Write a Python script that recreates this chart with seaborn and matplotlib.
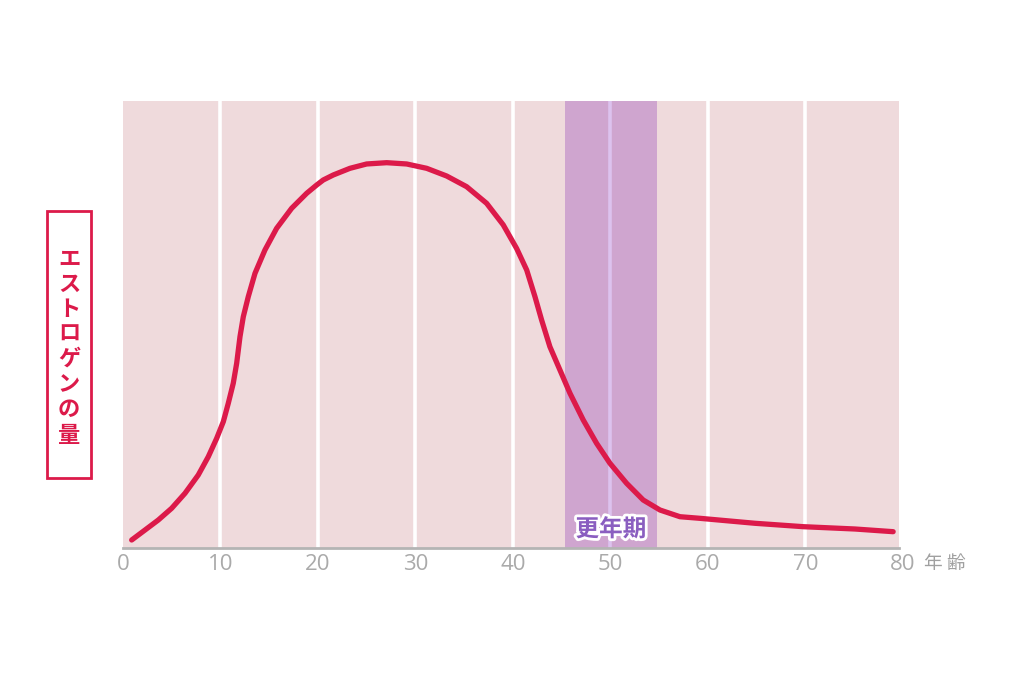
import numpy as np
import pandas as pd
import matplotlib
matplotlib.use("Agg")
import matplotlib.pyplot as plt
import matplotlib.patheffects as pe
import matplotlib.transforms as mtrans
from matplotlib.patches import Rectangle
import seaborn as sns

# 年齢 と エストロゲンの量（相対値, 0-100）
age = [0.89, 2.26, 3.62, 4.99, 6.36, 7.72, 8.75, 9.61, 10.29, 10.80, 11.31, 11.66, 11.83,
       12.00, 12.34, 12.85, 13.54, 14.56, 15.76, 17.30, 18.84, 19.87, 20.54, 21.57, 23.28,
       24.99, 27.05, 29.10, 31.15, 33.20, 35.25, 37.30, 39.00, 40.38, 41.41, 42.26, 42.94,
       43.79, 44.82, 45.85, 47.21, 48.58, 49.95, 51.66, 53.36, 55.08, 57.13, 59.18, 64.82,
       69.77, 75.08, 79.00]
estrogen = [1.79, 4.03, 6.26, 8.88, 12.24, 16.33, 20.43, 24.54, 28.26, 32.37, 36.85, 41.32, 44.30,
            47.27, 51.74, 56.22, 61.45, 66.67, 71.52, 76.00, 79.35, 81.21, 82.33, 83.45, 84.94,
            85.91, 86.20, 85.91, 84.94, 83.22, 80.83, 77.11, 72.30, 67.00, 62.19, 56.22, 51.01,
            45.03, 39.82, 34.61, 28.64, 23.42, 18.95, 14.47, 10.74, 8.50, 7.00, 6.64, 5.53,
            4.77, 4.25, 3.65]
x_ticks = [0, 10, 20, 30, 40, 50, 60, 70, 80]
menopause = (45.3, 54.8)

df = pd.DataFrame({"age": age, "estrogen": estrogen})

sns.set_style("white")
plt.rcParams["font.family"] = ["Noto Sans CJK JP", "DejaVu Sans"]

fig = plt.figure(figsize=(10.24, 6.83), dpi=100)
ax = fig.add_axes([123 / 1024, 1 - 548 / 683, 776 / 1024, 447 / 683])
ax.set_facecolor("#efdadc")

# 更年期の帯
ax.axvspan(menopause[0], menopause[1], color="#cfa5cf", zorder=1, lw=0)
for t in x_ticks[1:-1]:
    c = "#dcc2ee" if menopause[0] < t < menopause[1] else "white"
    ax.axvline(t, color=c, lw=2.6, zorder=2)

sns.lineplot(data=df, x="age", y="estrogen", ax=ax, color="#dc1a4a", lw=3.8,
             zorder=5, solid_capstyle="round", solid_joinstyle="round")

ax.set_xlim(0, 79.6)
ax.set_ylim(0, 100)
ax.set_xticks([])
ax.set_yticks([])
ax.set_xlabel("")
ax.set_ylabel("")
for s in ["top", "right", "left"]:
    ax.spines[s].set_visible(False)
ax.spines["bottom"].set_color("#b4b4b4")
ax.spines["bottom"].set_linewidth(2)
ax.spines["bottom"].set_zorder(6)

# 目盛りラベル（80 は描画範囲の端の外側）
trans = mtrans.blended_transform_factory(ax.transData, fig.transFigure)
for t in x_ticks:
    ax.text(t, 1 - 564 / 683, str(t), transform=trans, ha="center", va="center",
            fontsize=16, color="#aaaaaa", family=["Open Sans", "DejaVu Sans"],
            clip_on=False)

ax.text(np.mean(menopause), 4.2, "更年期", ha="center", va="center", fontsize=17,
        fontweight="bold", color="#8a5ec0", zorder=7,
        path_effects=[pe.withStroke(linewidth=4, foreground="white")])

fig.text(945 / 1024, 1 - 563 / 683, "年 齢", ha="center", va="center",
         fontsize=13.5, color="#a0a0a0")

# 縦書きラベル
fig.patches.append(Rectangle((47 / 1024, 1 - 478 / 683), 44 / 1024, 267 / 683,
                             transform=fig.transFigure, facecolor="white",
                             edgecolor="#dc1a4a", lw=2))
fig.text(69 / 1024, 1 - 347 / 683, "\n".join("エストロゲンの量"), ha="center", va="center",
         fontsize=16, fontweight="bold", color="#dc1a4a", linespacing=1.12)

fig.savefig("out.png", dpi=100, facecolor="white")
